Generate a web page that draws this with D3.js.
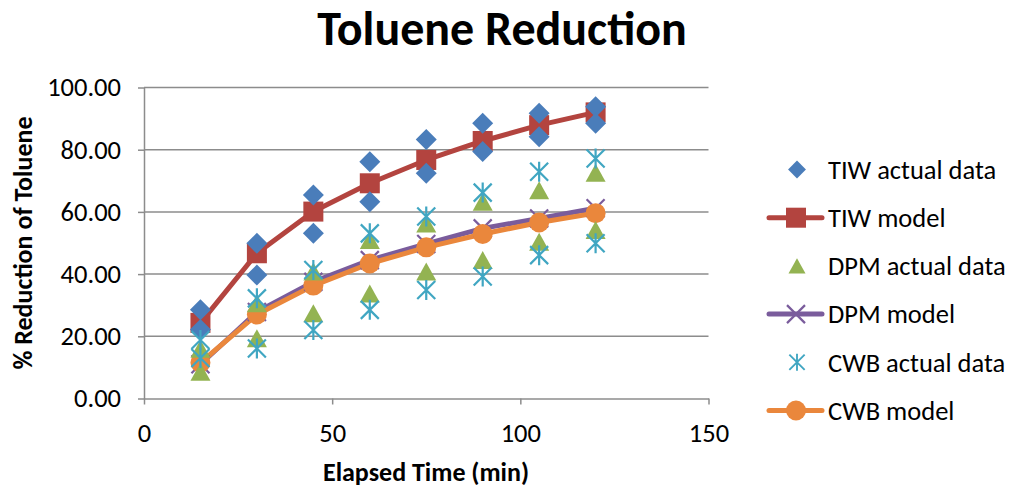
<!DOCTYPE html>
<html>
<head>
<meta charset="utf-8">
<script src="https://cdn.jsdelivr.net/npm/d3@7"></script>
<style>
  html, body { margin: 0; padding: 0; background: #fff; }
  svg { display: block; }
  text { font-family: Carlito, Calibri, Lato, "Liberation Sans", sans-serif; fill: #000; }
</style>
</head>
<body>
<svg id="chart" width="1010" height="489"></svg>
<script>
// ---------- data ----------
const times = [15, 30, 45, 60, 75, 90, 105, 120];
const tiwActualHigh = [28.5, 49.9, 65.4, 76.1, 83.3, 88.5, 91.7, 93.8];
const tiwActualLow  = [22.2, 39.7, 53.1, 63.3, 72.4, 79.4, 84.2, 88.5];
const tiwModel      = [24.3, 46.7, 60.1, 69.2, 76.7, 82.8, 87.9, 92.0];
const dpmActualHigh = [16.0, 30.6, 40.8, 51.0, 56.3, 63.3, 67.0, 72.6];
const dpmActualLow  = [8.6, 19.4, 27.4, 33.8, 40.8, 44.5, 50.4, 54.2];
const dpmModel      = [11.0, 27.8, 37.5, 44.5, 49.7, 54.7, 57.9, 61.2];
const cwbActualHigh = [18.8, 32.2, 41.3, 53.1, 58.5, 66.2, 72.9, 77.2];
const cwbActualLow  = [13.0, 16.1, 22.0, 28.5, 34.9, 39.2, 46.1, 49.9];
const cwbModel      = [11.5, 27.0, 36.3, 43.4, 48.6, 52.9, 56.6, 59.6];
const xTicks = [0, 50, 100, 150];
const yTicks = [0, 20, 40, 60, 80, 100];
const seriesNames = ["TIW actual data", "TIW model", "DPM actual data", "DPM model", "CWB actual data", "CWB model"];

// ---------- styles ----------
const C = {
  tiwA: "#4A7DBA", tiwM: "#B3443F", dpmA: "#93B352",
  dpmM: "#7A5C9C", cwbA: "#40A6C2", cwbM: "#EA873C", grid: "#8C8C8C"
};
const FONT = 'Carlito, Calibri, Lato, "Liberation Sans", sans-serif';

const svg = d3.select("#chart");
const x = d3.scaleLinear().domain([0, 150]).range([144, 708.5]);
const y = d3.scaleLinear().domain([0, 100]).range([398.5, 87.5]);

// gridlines
svg.append("g").selectAll("line").data(yTicks.filter(d => d > 0)).join("line")
  .attr("x1", x(0)).attr("x2", x(150))
  .attr("y1", d => y(d)).attr("y2", d => y(d))
  .attr("stroke", C.grid).attr("stroke-width", 1.5);

// axes
const yAxis = svg.append("g").attr("transform", `translate(${x(0)},0)`)
  .call(d3.axisLeft(y).tickValues(yTicks).tickFormat(d3.format(".2f")).tickSize(6).tickSizeOuter(0).tickPadding(17));
const xAxis = svg.append("g").attr("transform", `translate(0,${y(0)})`)
  .call(d3.axisBottom(x).tickValues(xTicks).tickFormat(d3.format("d")).tickSize(6).tickSizeOuter(0).tickPadding(22));
[yAxis, xAxis].forEach(g => {
  g.selectAll("path.domain").attr("stroke", C.grid).attr("stroke-width", 1.5);
  g.selectAll(".tick line").attr("stroke", C.grid).attr("stroke-width", 1.5);
  g.selectAll(".tick text").style("font-size", "26.5px")
    .style("font-family", FONT).attr("fill", "#000");
});
xAxis.selectAll(".tick text").attr("dy", "0.6em");

// titles
svg.append("text").attr("x", 502).attr("y", 45).attr("text-anchor", "middle")
  .style("font-size", "48px").style("font-weight", "bold").text("Toluene Reduction");
svg.append("text").attr("x", 426).attr("y", 481).attr("text-anchor", "middle")
  .style("font-size", "26px").style("font-weight", "bold").text("Elapsed Time (min)");
svg.append("text").attr("transform", "translate(32,243) rotate(-90)").attr("text-anchor", "middle")
  .style("font-size", "26px").style("font-weight", "bold").text("% Reduction of Toluene");

// ---------- marker factories ----------
function drawMarker(g, type, color) {
  if (type === "diamond") {
    g.append("path").attr("d", "M0,-10.5L10.5,0L0,10.5L-10.5,0Z").attr("fill", color);
  } else if (type === "square") {
    g.append("rect").attr("x", -10).attr("y", -10).attr("width", 20).attr("height", 20).attr("fill", color);
  } else if (type === "triangle") {
    g.append("path").attr("d", "M0,-9L10,9L-10,9Z").attr("fill", color);
  } else if (type === "circle") {
    g.append("circle").attr("r", 10).attr("fill", color);
  } else if (type === "x") {
    g.append("path").attr("d", "M-9,-9L9,9M-9,9L9,-9").attr("stroke", color).attr("stroke-width", 2.2).attr("fill", "none");
  } else if (type === "star") {
    g.append("path").attr("d", "M-9,-9L9,9M-9,9L9,-9M0,-10L0,10").attr("stroke", color).attr("stroke-width", 2.2).attr("fill", "none");
  }
}

const line = d3.line().x(d => x(d[0])).y(d => y(d[1]));
const pairs = vals => times.map((t, i) => [t, vals[i]]);

const models = [
  { vals: tiwModel, color: C.tiwM, marker: "square" },
  { vals: dpmModel, color: C.dpmM, marker: "x" },
  { vals: cwbModel, color: C.cwbM, marker: "circle" }
];
const actuals = [
  { vals: [tiwActualHigh, tiwActualLow], color: C.tiwA, marker: "diamond" },
  { vals: [dpmActualHigh, dpmActualLow], color: C.dpmA, marker: "triangle" },
  { vals: [cwbActualHigh, cwbActualLow], color: C.cwbA, marker: "star" }
];

const plot = svg.append("g");
models.forEach(m => {
  plot.append("path").datum(pairs(m.vals)).attr("d", line)
    .attr("fill", "none").attr("stroke", m.color).attr("stroke-width", 5).attr("stroke-linejoin", "round");
});
models.forEach(m => {
  pairs(m.vals).forEach(p => {
    const g = plot.append("g").attr("transform", `translate(${x(p[0])},${y(p[1])})`);
    drawMarker(g, m.marker, m.color);
  });
});
actuals.forEach(a => {
  a.vals.forEach(arr => {
    pairs(arr).forEach(p => {
      const g = plot.append("g").attr("transform", `translate(${x(p[0])},${y(p[1])})`);
      drawMarker(g, a.marker, a.color);
    });
  });
});

// ---------- legend ----------
const legendItems = [
  { name: seriesNames[0], color: C.tiwA, marker: "diamond", line: false },
  { name: seriesNames[1], color: C.tiwM, marker: "square", line: true },
  { name: seriesNames[2], color: C.dpmA, marker: "triangle", line: false },
  { name: seriesNames[3], color: C.dpmM, marker: "x", line: true },
  { name: seriesNames[4], color: C.cwbA, marker: "star", line: false },
  { name: seriesNames[5], color: C.cwbM, marker: "circle", line: true }
];
const legend = svg.append("g");
legendItems.forEach((it, i) => {
  const cy = 169.5 + i * 48.2;
  const g = legend.append("g").attr("transform", `translate(0,${cy})`);
  if (it.line) {
    g.append("line").attr("x1", 769).attr("x2", 822).attr("y1", 0).attr("y2", 0)
      .attr("stroke", it.color).attr("stroke-width", 5).attr("stroke-linecap", "round");
  }
  const mg = g.append("g").attr("transform", "translate(796,0)");
  drawMarker(mg, it.marker, it.color);
  if (it.marker === "diamond" || it.marker === "triangle" || it.marker === "star") {
    mg.attr("transform", "translate(797,0) scale(0.85)");
  }
  g.append("text").attr("x", 828).attr("y", 0).attr("dy", "0.35em")
    .style("font-size", "26.5px").text(it.name);
});
</script>
</body>
</html>
